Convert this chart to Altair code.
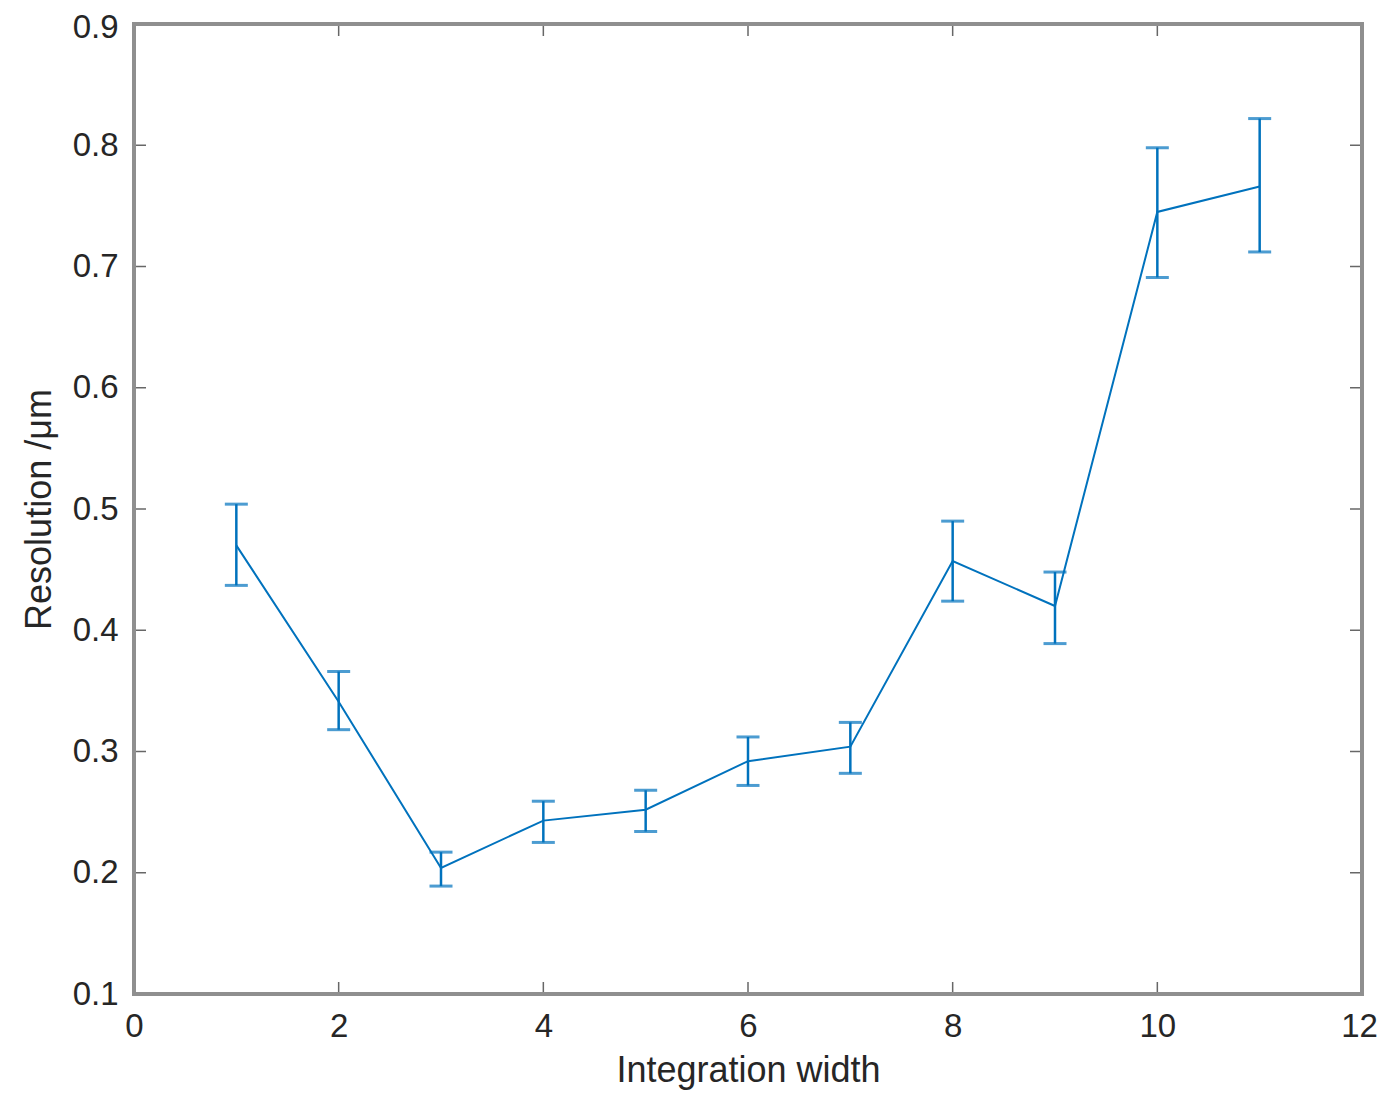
import altair as alt
import pandas as pd

widths = [1, 2, 3, 4, 5, 6, 7, 8, 9, 10, 11]
resolution = [0.470, 0.341, 0.204, 0.243, 0.252, 0.292, 0.304, 0.457, 0.420, 0.745, 0.766]
err_hi = [0.504, 0.366, 0.217, 0.259, 0.268, 0.312, 0.324, 0.490, 0.448, 0.798, 0.822]
err_lo = [0.437, 0.318, 0.189, 0.225, 0.234, 0.272, 0.282, 0.424, 0.389, 0.691, 0.712]

x_ticks = [0, 2, 4, 6, 8, 10, 12]
y_ticks = [0.1, 0.2, 0.3, 0.4, 0.5, 0.6, 0.7, 0.8, 0.9]

df = pd.DataFrame({"w": widths, "r": resolution, "hi": err_hi, "lo": err_lo})
xt = pd.DataFrame({"x": x_ticks, "ybot": 0.1, "ytop": 0.9})
yt = pd.DataFrame({"y": y_ticks, "xl": 0, "xr": 12})
box = pd.DataFrame({
    "x": [0, 0, 0, 12],
    "x2": [12, 12, 0, 12],
    "y": [0.1, 0.9, 0.1, 0.1],
    "y2": [0.1, 0.9, 0.9, 0.9],
})

BLUE = "#0072BD"
FONT = "Liberation Sans"

xscale = alt.Scale(domain=[0, 12], nice=False, zero=False)
yscale = alt.Scale(domain=[0.1, 0.9], nice=False, zero=False)

xaxis = alt.Axis(values=x_ticks, title="Integration width", format="d", grid=False,
                 domain=False, ticks=False, labelFontSize=33, labelColor="#262626",
                 labelFont=FONT, labelPadding=16, titleFontSize=36, titleFont=FONT,
                 titleFontWeight="normal", titleColor="#262626", titlePadding=10,
                 labelFlush=False,
                 labelOffset={"condition": {"test": "datum.value == 12", "value": -3}, "value": 0})
yaxis = alt.Axis(values=y_ticks, title="Resolution /μm", format=".1f", grid=False,
                 domain=False, ticks=False, labelFontSize=33, labelColor="#262626",
                 labelFont=FONT, labelPadding=16, titleFontSize=36, titleFont=FONT,
                 titleFontWeight="normal", titleColor="#262626", titlePadding=14,
                 labelFlush=False,
                 labelOffset={"condition": {"test": "datum.value > 0.85", "value": 3}, "value": 0})

base = alt.Chart(df)

line = base.mark_line(color=BLUE, strokeWidth=2).encode(
    x=alt.X("w:Q", scale=xscale, axis=xaxis),
    y=alt.Y("r:Q", scale=yscale, axis=yaxis),
)
bars = base.mark_rule(color=BLUE, strokeWidth=2.5).encode(
    x="w:Q", y="lo:Q", y2="hi:Q"
)
cap_hi = base.mark_tick(color=BLUE, orient="horizontal", size=23, thickness=3).encode(
    x="w:Q", y="hi:Q"
)
cap_lo = base.mark_tick(color=BLUE, orient="horizontal", size=23, thickness=3).encode(
    x="w:Q", y="lo:Q"
)

TICKC = "#262626"
xb = alt.Chart(xt).mark_tick(color=TICKC, orient="vertical", size=12, thickness=1.5, yOffset=-6).encode(
    x="x:Q", y="ybot:Q")
xtp = alt.Chart(xt).mark_tick(color=TICKC, orient="vertical", size=12, thickness=1.5, yOffset=6).encode(
    x="x:Q", y="ytop:Q")
yl = alt.Chart(yt).mark_tick(color=TICKC, orient="horizontal", size=12, thickness=1.5, xOffset=6).encode(
    x="xl:Q", y="y:Q")
yr = alt.Chart(yt).mark_tick(color=TICKC, orient="horizontal", size=12, thickness=1.5, xOffset=-6).encode(
    x="xr:Q", y="y:Q")

frame = alt.Chart(box).mark_rule(color="#8f8f8f", strokeWidth=4, strokeCap="square").encode(
    x="x:Q", x2="x2:Q", y="y:Q", y2="y2:Q")

chart = alt.layer(xb, xtp, yl, yr, frame, bars, cap_hi, cap_lo, line).properties(
    width=1228, height=970,
    autosize=alt.AutoSizeParams(type="none"),
    padding={"left": 126, "top": 16, "right": 17, "bottom": 100},
).configure_view(stroke=None).configure(background="white")

chart.save("out.html", embed_options={"renderer": "svg", "actions": False})
